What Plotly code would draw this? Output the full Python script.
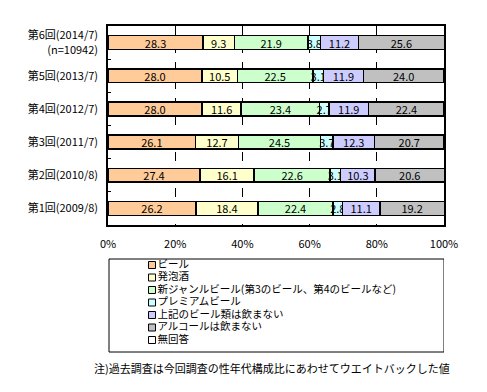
import plotly.graph_objects as go

categories = ["第6回(2014/7)<br>(n=10942)", "第5回(2013/7)", "第4回(2012/7)",
              "第3回(2011/7)", "第2回(2010/8)", "第1回(2009/8)"]
series_names = ["ビール", "発泡酒", "新ジャンルビール(第3のビール、第4のビールなど)",
                "プレミアムビール", "上記のビール類は飲まない", "アルコールは飲まない", "無回答"]
beer      = [28.3, 28.0, 28.0, 26.1, 27.4, 26.2]
happoshu  = [9.3, 10.5, 11.6, 12.7, 16.1, 18.4]
new_genre = [21.9, 22.5, 23.4, 24.5, 22.6, 22.4]
premium   = [3.8, 3.1, 2.7, 3.7, 3.1, 2.8]
no_beer   = [11.2, 11.9, 11.9, 12.3, 10.3, 11.1]
no_alc    = [25.6, 24.0, 22.4, 20.7, 20.6, 19.2]
no_answer = [0.0, 0.0, 0.0, 0.0, 0.0, 0.0]
x_ticks = [0, 20, 40, 60, 80, 100]
x_tick_labels = ["0%", "20%", "40%", "60%", "80%", "100%"]
note = "注)過去調査は今回調査の性年代構成比にあわせてウエイトバックした値"

colors = ["#FFCC99", "#FFFFCC", "#CCFFCC", "#CCFFFF", "#CCCCFF", "#C0C0C0", "#FFFFFF"]
values = [beer, happoshu, new_genre, premium, no_beer, no_alc, no_answer]

FONT = "Noto Sans CJK JP"
fig = go.Figure()
for i, (name, vals, col) in enumerate(zip(series_names, values, colors)):
    fig.add_trace(go.Bar(
        y=categories, x=vals, name=name, orientation="h",
        marker=dict(color=col, line=dict(color="black", width=1.5)),
        text=[f"{v:.1f}" for v in vals] if i < 6 else None,
        textposition="inside", insidetextanchor="middle", textangle=0,
        textfont=dict(family=FONT, size=11, color="black"),
        showlegend=False, xaxis="x", yaxis="y",
    ))

# legend entries drawn as markers + text on a hidden axis
fig.add_trace(go.Scatter(
    x=[0.131] * len(series_names), y=list(range(len(series_names) - 1, -1, -1)),
    mode="markers+text", text=series_names, textposition="middle right",
    textfont=dict(family=FONT, size=10.5, color="black"),
    marker=dict(symbol="square", size=7, color=colors, line=dict(color="black", width=1)),
    xaxis="x2", yaxis="y2", showlegend=False, hoverinfo="skip", cliponaxis=False,
))

W, H = 487, 392
top, plot_bottom = 26, 225
main_dom = [(H - plot_bottom) / (H - top), 1]
leg_dom = [(H - 352) / (H - top), (H - 259) / (H - top)]

fig.update_layout(
    template="none",
    width=W, height=H, barmode="stack", bargap=0.58,
    margin=dict(l=108, r=43, t=top, b=0),
    paper_bgcolor="white", plot_bgcolor="white",
    font=dict(family=FONT, size=11, color="black"),
    uniformtext=dict(minsize=11, mode="show"),
    xaxis=dict(range=[0, 100], tickvals=x_ticks, ticktext=x_tick_labels,
               showgrid=True, gridcolor="black", griddash="dash", gridwidth=1,
               showline=True, linecolor="black", linewidth=1.5, mirror=True,
               ticks="", ticklabelstandoff=8, zeroline=False, anchor="y",
               automargin=False, tickfont=dict(size=11)),
    yaxis=dict(domain=main_dom, autorange="reversed", type="category",
               showline=True, linecolor="black", linewidth=1.5, mirror=True,
               ticks="inside", ticklen=3, tickcolor="black", tickson="boundaries",
               showgrid=False, zeroline=False, ticklabelstandoff=6,
               automargin=False, tickfont=dict(size=11)),
    xaxis2=dict(domain=[0, 1], range=[0, 1], visible=False, anchor="y2"),
    yaxis2=dict(domain=leg_dom, range=[-0.96, 6.48], visible=False, anchor="x2"),
    shapes=[dict(type="rect", xref="x2", yref="y2 domain", x0=0.003, x1=1, y0=0, y1=1,
                 line=dict(color="black", width=1), fillcolor="rgba(0,0,0,0)")],
    annotations=[dict(text=note, xref="paper", yref="paper", x=(271.5 - 108) / 336,
                      y=(H - 368) / (H - top), xanchor="center", yanchor="middle",
                      showarrow=False, font=dict(family=FONT, size=11, color="black"))],
)

fig.write_html("out.html", config={"displayModeBar": False},
               post_script="document.body.style.margin='0';")
